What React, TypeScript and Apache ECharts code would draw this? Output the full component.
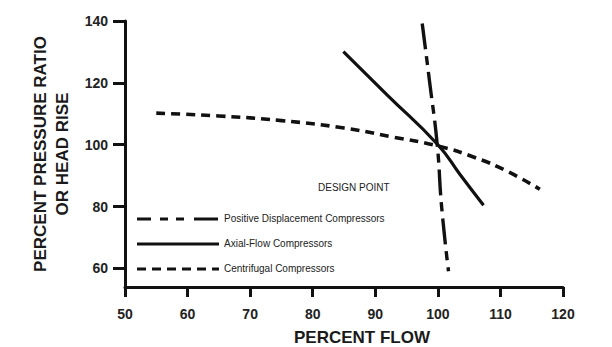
import React, { useEffect, useRef } from "react";
import * as echarts from "echarts";

const xTicks = [50, 60, 70, 80, 90, 100, 110, 120];
const yTicks = [60, 80, 100, 120, 140];

const centrifugal: [number, number][] = [
  [55, 110.2], [65, 109.3], [75, 107.8], [85, 105.4], [93, 102.4],
  [100, 99.6], [106, 95.8], [111, 91.5], [116.3, 85.6],
];
const axialFlow: [number, number][] = [
  [84.9, 130.1], [92, 115.9], [100, 100], [103.6, 90.2], [107.3, 80.4],
];
const positiveDisplacement: [number, number][] = [
  [97.5, 139.2], [98.7, 120], [99.9, 100], [100.6, 80], [101.7, 59.1],
];

const legendNames = [
  "Positive Displacement Compressors",
  "Axial-Flow Compressors",
  "Centrifugal Compressors",
];

const FONT = "Liberation Sans, Arial, Helvetica, sans-serif";

export default function App() {
  const ref = useRef<HTMLDivElement>(null);
  useEffect(() => {
    if (!ref.current) return;
    const chart = echarts.init(ref.current, undefined, { renderer: "svg" });
    const dashPD = [26, 7, 9, 7];
    const dashCf = [9, 6];
    const legendDash: any[] = [[14, 9, 8, 8, 8, 10, 24, 20], null, [9, 6]];
    const legendY = [219, 244, 269];
    chart.setOption({
      animation: false,
      backgroundColor: "#fff",
      grid: {
        left: 125,
        right: 49,
        top: 21,
        bottom: 60,
        containLabel: false,
        outerBoundsMode: "none",
      },
      xAxis: {
        type: "value",
        min: 50,
        max: 120,
        interval: 10,
        name: "PERCENT FLOW",
        nameLocation: "middle",
        nameGap: 42,
        nameTextStyle: {
          fontFamily: FONT,
          fontWeight: "bold",
          fontSize: 17,
          lineHeight: 17,
          color: "#1a1a1a",
          padding: [0, 0, 0, 36],
        },
        axisLine: { show: true, lineStyle: { color: "#111", width: 3 } },
        axisTick: { show: true, length: 10, lineStyle: { color: "#111", width: 3 } },
        axisLabel: {
          margin: 20,
          fontFamily: FONT,
          fontWeight: "bold",
          fontSize: 14,
          color: "#222",
          formatter: (v: number) => (xTicks.includes(v) ? String(v) : ""),
        },
        splitLine: { show: false },
      },
      yAxis: {
        type: "value",
        min: 54,
        max: 140,
        name: "PERCENT PRESSURE RATIO\nOR HEAD RISE",
        nameLocation: "middle",
        nameGap: 40,
        nameRotate: 90,
        nameTextStyle: {
          fontFamily: FONT,
          fontWeight: "bold",
          fontSize: 17,
          lineHeight: 22,
          color: "#1a1a1a",
          align: "center",
        },
        axisLine: { show: true, lineStyle: { color: "#111", width: 3 } },
        axisTick: { show: true, length: 12, customValues: yTicks, lineStyle: { color: "#111", width: 3 } },
        axisLabel: {
          margin: 17,
          customValues: yTicks,
          fontFamily: FONT,
          fontWeight: "bold",
          fontSize: 14,
          color: "#222",
        },
        splitLine: { show: false },
      },
      series: [
        {
          name: legendNames[0],
          type: "line",
          data: positiveDisplacement,
          smooth: true,
          showSymbol: false,
          lineStyle: { color: "#111", width: 3.4, type: dashPD },
        },
        {
          name: legendNames[1],
          type: "line",
          data: axialFlow,
          smooth: true,
          showSymbol: false,
          lineStyle: { color: "#111", width: 3.2 },
        },
        {
          name: legendNames[2],
          type: "line",
          data: centrifugal,
          smooth: true,
          showSymbol: false,
          lineStyle: { color: "#111", width: 3.6, type: dashCf },
        },
      ],
      graphic: [
        {
          type: "text",
          left: 318,
          top: 182,
          style: { text: "DESIGN POINT", fontFamily: FONT, fontSize: 10, fill: "#222" },
        },
        ...legendNames.flatMap((n, i) => [
          {
            type: "line",
            shape: { x1: 137, y1: legendY[i], x2: 219, y2: legendY[i] },
            style: { stroke: "#111", lineWidth: 3.2, lineDash: legendDash[i] },
          },
          {
            type: "text",
            left: 224,
            top: legendY[i] - 6,
            style: { text: n, fontFamily: FONT, fontSize: 10, fill: "#222" },
          },
        ]),
      ],
    });
    return () => chart.dispose();
  }, []);
  return (
    <div
      ref={ref}
      style={{ position: "absolute", left: 0, top: 0, width: 612, height: 347, background: "#fff" }}
    />
  );
}
